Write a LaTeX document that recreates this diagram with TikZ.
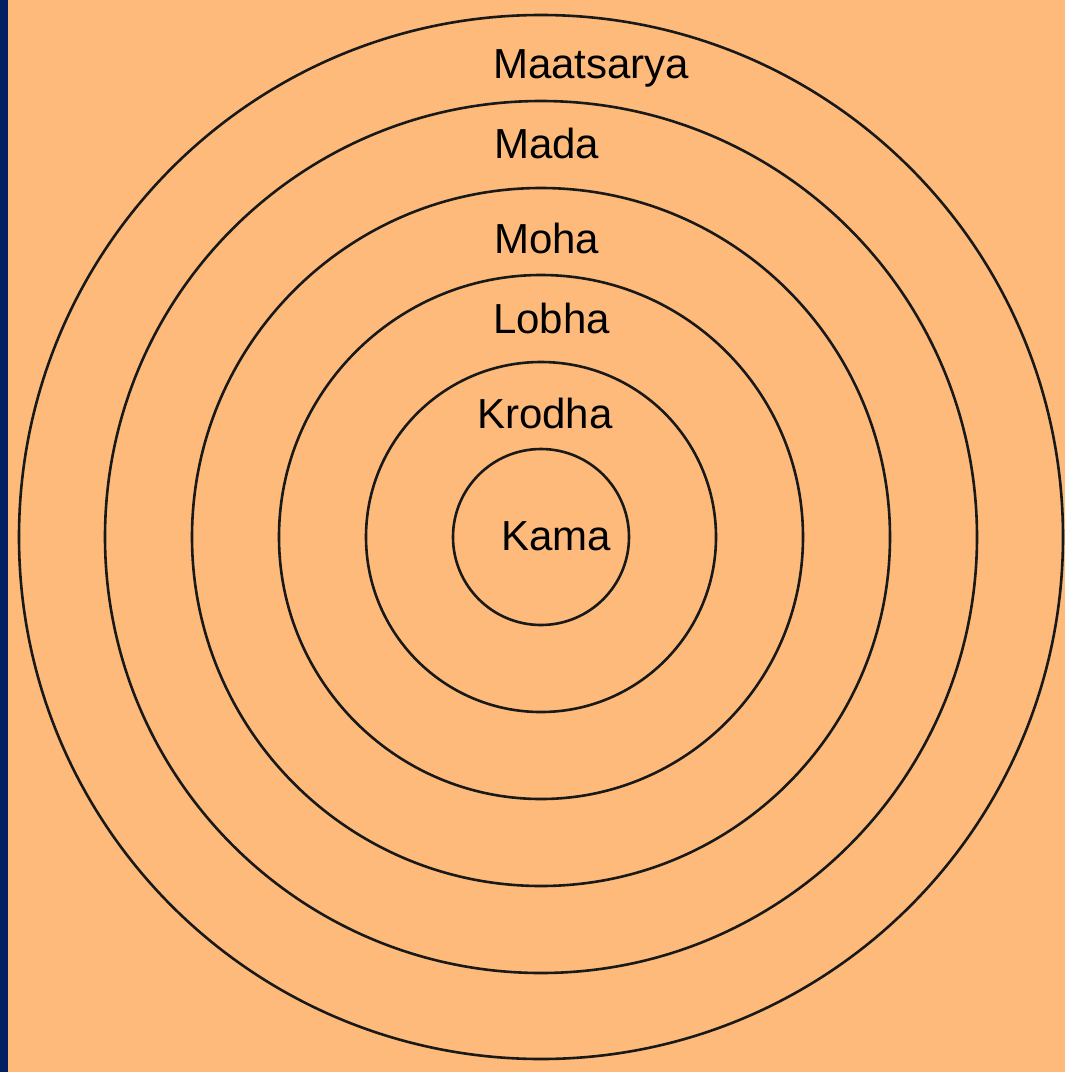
\documentclass[tikz,border=0pt]{standalone}
\usepackage{fontspec}
\setmainfont{Liberation Sans}
\definecolor{bgorange}{HTML}{FDBA7A}
\definecolor{stripblue}{HTML}{022162}
\begin{document}
\begin{tikzpicture}[x=1pt,y=-1pt,
  ring/.style={draw=black!90,line width=2.6pt},
  lbl/.style={anchor=base west,inner sep=0pt,font=\fontsize{42}{50}\selectfont,text=black}]
\useasboundingbox (0,0) rectangle (1065,1072);
\fill[bgorange] (0,0) rectangle (1065,1072);
\fill[stripblue] (0,0) rectangle (8,1072);
\coordinate (c) at (541,537);
\draw[ring] (c) circle[radius=522];
\draw[ring] (c) circle[radius=436];
\draw[ring] (c) circle[radius=349];
\draw[ring] (c) circle[radius=262];
\draw[ring] (c) circle[radius=175];
\draw[ring] (c) circle[radius=88];
\node[lbl] (maatsarya) at (493,78) {Maatsarya};
\node[lbl] (mada) at (494,158) {Mada};
\node[lbl] (moha) at (494,253) {Moha};
\node[lbl] (lobha) at (493,333) {Lobha};
\node[lbl] (krodha) at (477,428) {Krodha};
\node[lbl] (kama) at (501,550) {Kama};
\end{tikzpicture}
\end{document}
